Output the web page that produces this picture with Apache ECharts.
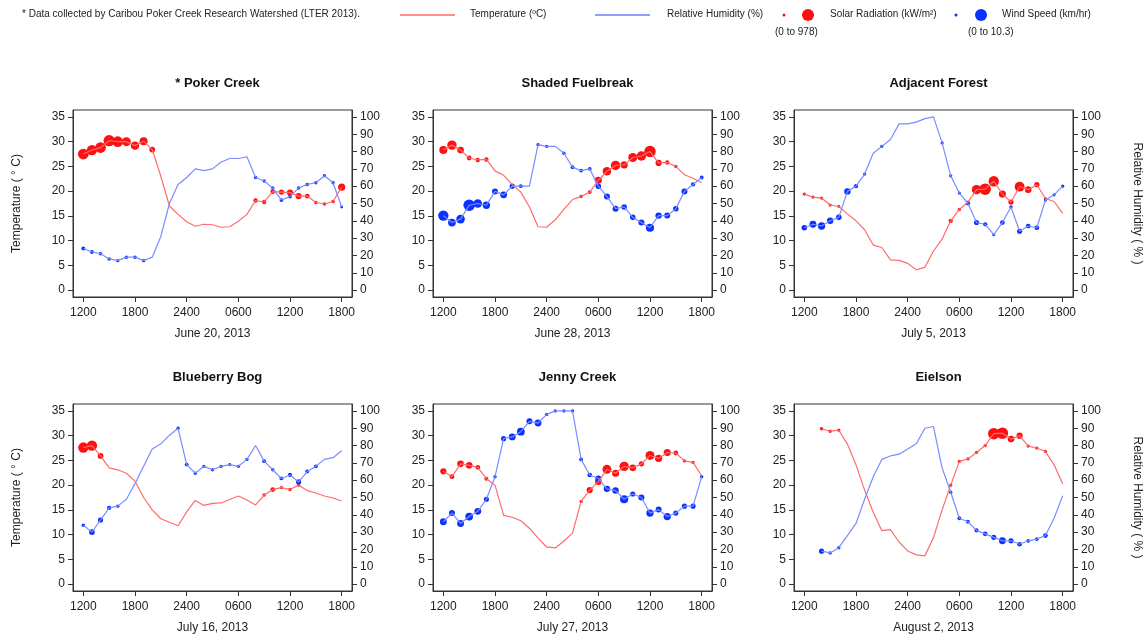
<!DOCTYPE html>
<html lang="en">
<head>
    <meta charset="UTF-8">
    <title>Caribou Poker Creek</title>
    <script src="https://cdn.jsdelivr.net/npm/echarts@6/dist/echarts.min.js"></script>
</head>
<body style="margin:0">
    <div id="chart_div" style="width: 1146px; height: 639px;"></div>
</body>
<script type="text/javascript">
// hours since 1200 on the first day (0..30)
var siteNames = ['* Poker Creek', 'Shaded Fuelbreak', 'Adjacent Forest', 'Blueberry Bog', 'Jenny Creek', 'Eielson'];
var siteDates = ['June 20, 2013', 'June 28, 2013', 'July 5, 2013', 'July 16, 2013', 'July 27, 2013', 'August 2, 2013'];
var hourTicks = [0, 6, 12, 18, 24, 30];
var hourLabels = ['1200', '1800', '2400', '0600', '1200', '1800'];

var pokerTemp = [27.5,28.3,28.8,30.2,30.0,30.0,29.2,30.1,28.4,23,17,15.3,13.8,12.9,13.3,13.2,12.7,12.8,13.9,15.3,18.1,17.8,19.9,19.8,19.7,19.0,19.0,17.7,17.4,17.9,20.8];
var pokerRH = [24,22,21,18,17,19,19,17,19,31,50,61,65,70,69,70,74,76,76,77,65,63,59,52,54,59,61,62,66,62,48];
var pokerSolar = [900,850,880,950,880,700,650,600,350,null,null,null,null,null,null,null,null,null,null,null,200,200,250,300,400,400,250,100,100,120,500];
var pokerWind = [1.5,1.5,1.2,1.2,1,1.2,1.2,1,null,null,null,null,null,null,null,null,null,null,null,null,1,1,1,1.5,1.5,1.2,1.2,1,1,1,0.5];

var fuelTemp = [28.3,29.3,28.3,26.7,26.3,26.4,24.1,23.2,21.3,19.8,16.8,12.8,12.7,14.2,16.3,18.3,18.9,19.8,22.2,24.0,25.2,25.3,26.8,27.1,28.0,25.7,25.8,25.0,23.3,22.6,21.7];
var fuelRH = [43,39,41,49,50,49,57,55,60,60,60,84,83,83,79,71,69,70,60,54,47,48,42,39,36,43,43,47,57,61,65];
var fuelSolar = [600,750,450,250,200,200,null,null,null,null,null,null,null,null,null,null,100,150,500,650,750,500,700,750,978,400,200,100,null,null,null];
var fuelWind = [9,6,7,10.3,7,5.5,4,5,3,1.5,null,1,1,null,1,1.5,1.5,1.5,3.5,4,4,3.5,3.5,4,6.5,4.5,4,3.5,4,2,1.5];

var forestTemp = [19.4,18.8,18.6,17.2,16.9,15.4,14.0,12.2,9.1,8.6,6.1,6.0,5.4,4.1,4.6,7.9,10.3,14.0,16.3,17.8,20.3,20.4,22.0,19.4,17.8,20.9,20.3,21.3,18.5,17.9,15.5];
var forestRH = [36,38,37,40,42,57,60,67,79,83,87,96,96,97,99,100,85,66,56,50,39,38,32,39,48,34,37,36,52,55,60];
var forestSolar = [80,80,80,60,50,null,null,null,null,null,null,null,null,null,null,null,null,200,100,80,750,978,850,500,300,800,450,300,60,null,null];
var forestWind = [3.5,5,5.5,4.5,3.5,4.5,2,0.8,null,0.8,null,null,null,null,null,null,0.8,0.8,0.8,2,3,2,0.5,2.5,1,3,2.5,2.5,0.8,0.8,0.8];

var bogTemp = [27.6,28.0,25.9,23.5,23.1,22.4,20.8,17.5,15.0,13.2,12.5,11.8,14.6,16.9,15.9,16.3,16.4,17.1,17.8,17.0,16.0,18.0,19.1,19.5,19.1,20.0,18.9,18.4,17.8,17.4,16.8];
var bogRH = [34,30,37,44,45,49,58,68,78,81,86,90,69,64,68,66,68,69,68,72,80,71,66,61,63,59,65,68,72,73,77];
var bogSolar = [850,850,350,null,null,null,null,null,null,null,null,null,null,null,null,null,null,null,null,null,null,100,250,100,100,80,null,null,null,null,null];
var bogWind = [1,3.5,3,2,1,null,null,null,null,null,null,1,1.5,1,1,1,1,1,1,1,null,1.5,1,1.5,2,3,1.5,1.5,null,null,null];

var jennyTemp = [22.8,21.7,24.3,24.0,23.6,21.3,20.0,13.9,13.5,12.8,11.3,9.3,7.5,7.3,8.7,10.3,16.7,19.0,20.7,23.2,22.4,23.8,23.5,24.3,26.0,25.4,26.6,26.5,24.9,24.6,21.9];
var jennyRH = [36,41,35,39,42,49,62,84,85,88,94,93,98,100,100,100,72,63,61,55,54,49,52,50,41,43,39,41,45,45,62];
var jennySolar = [400,250,450,450,250,150,null,null,null,null,null,null,null,null,null,null,80,400,450,700,500,750,450,300,700,500,500,250,80,80,null];
var jennyWind = [5,4,5,6,5,3,1,3,5,6,4,5,1,1,1,1,1.5,2.5,4,4.5,4.5,6.5,3,4,5.5,4,5.5,3,3,3,1];

var eielsonTemp = [null,null,31.4,30.9,31.1,28.3,24.1,19.0,14.5,10.8,11.0,8.5,6.7,5.9,5.7,9.4,15.0,20.0,24.8,25.3,26.6,28.0,30.4,30.5,29.3,30.0,27.9,27.5,26.8,24.1,20.3];
var eielsonRH = [null,null,19,18,21,28,35,49,62,72,74,75,78,81,90,91,67,53,38,36,31,29,27,25,25,23,25,26,28,38,51];
var eielsonSolar = [null,null,100,100,80,null,null,null,null,null,null,null,null,null,null,null,null,80,80,80,80,80,978,978,450,400,80,80,80,null,null];
var eielsonWind = [null,null,3,1,1,null,null,null,null,null,null,null,null,null,null,null,null,1,1.5,1.5,2,2.5,3,5,3,2.5,1.5,1.5,2.5,null,null];

var temps = [pokerTemp, fuelTemp, forestTemp, bogTemp, jennyTemp, eielsonTemp];
var rhs = [pokerRH, fuelRH, forestRH, bogRH, jennyRH, eielsonRH];
var solars = [pokerSolar, fuelSolar, forestSolar, bogSolar, jennySolar, eielsonSolar];
var winds = [pokerWind, fuelWind, forestWind, bogWind, jennyWind, eielsonWind];
var solarMax = 978, windMax = 10.3;

var font = 'Liberation Sans, Arial, sans-serif';
var lefts = [73, 433, 794];
var tops = [110, 404];
var gw = 279, gh = 187;

function pairs(vals) {
    var out = [];
    for (var i = 0; i < vals.length; i++) if (vals[i] != null) out.push([i, vals[i]]);
    return out;
}
function dots(vals, sizes) {
    var out = [];
    for (var i = 0; i < vals.length; i++) if (sizes[i] != null && vals[i] != null) out.push([i, vals[i], sizes[i]]);
    return out;
}

var tickStyle = {show: true, inside: false, length: 5, lineStyle: {color: '#333'}};
var lineStyle = {show: true, onZero: false, lineStyle: {color: '#333', width: 1}};

var grids = [], xAxes = [], yAxes = [], series = [], titles = [];
for (var p = 0; p < 6; p++) {
    var col = p % 3, row = Math.floor(p / 3);
    grids.push({left: lefts[col], top: tops[row], width: gw, height: gh, show: true,
        borderColor: '#333', borderWidth: 1, backgroundColor: 'transparent'});
    xAxes.push({
        type: 'value', gridIndex: p, min: -1.2, max: 31.2, position: 'bottom',
        name: siteDates[p], nameLocation: 'middle', nameGap: 31,
        nameTextStyle: {fontFamily: font, fontSize: 12, color: '#222'},
        axisLine: lineStyle, splitLine: {show: false},
        axisTick: Object.assign({customValues: hourTicks}, tickStyle),
        axisLabel: {customValues: hourTicks, fontFamily: font, fontSize: 12, color: '#222', margin: 10,
            formatter: function (v) { return hourLabels[hourTicks.indexOf(v)]; }}
    });
    yAxes.push({
        type: 'value', gridIndex: p, position: 'left', min: -1.4, max: 36.4,
        name: col === 0 ? 'Temperature ( \u00b0 C)' : '', nameLocation: 'middle', nameGap: 50, nameRotate: 90,
        nameTextStyle: {fontFamily: font, fontSize: 12, color: '#222'},
        axisLine: lineStyle, splitLine: {show: false},
        axisTick: Object.assign({customValues: [0,5,10,15,20,25,30,35]}, tickStyle),
        axisLabel: {customValues: [0,5,10,15,20,25,30,35], fontFamily: font, fontSize: 12, color: '#222', margin: 8}
    });
    yAxes.push({
        type: 'value', gridIndex: p, position: 'right', min: -4, max: 104,
        name: col === 2 ? 'Relative Humidity ( % )' : '', nameLocation: 'middle', nameGap: 58, nameRotate: -90,
        nameTextStyle: {fontFamily: font, fontSize: 12, color: '#222'},
        axisLine: lineStyle, splitLine: {show: false},
        axisTick: Object.assign({customValues: [0,10,20,30,40,50,60,70,80,90,100]}, tickStyle),
        axisLabel: {customValues: [0,10,20,30,40,50,60,70,80,90,100], fontFamily: font, fontSize: 12, color: '#222', margin: 8}
    });
    titles.push({text: siteNames[p], left: lefts[col] + gw / 2, top: tops[row] - 38, textAlign: 'center',
        textStyle: {fontFamily: font, fontSize: 13, fontWeight: 'bold', color: '#111'}});
    series.push({type: 'line', xAxisIndex: p, yAxisIndex: 2 * p, data: pairs(temps[p]), showSymbol: false,
        lineStyle: {color: '#ff6b6b', width: 1.2}, silent: true});
    series.push({type: 'line', xAxisIndex: p, yAxisIndex: 2 * p + 1, data: pairs(rhs[p]), showSymbol: false,
        lineStyle: {color: '#7b8cff', width: 1.2}, silent: true});
    series.push({type: 'scatter', xAxisIndex: p, yAxisIndex: 2 * p, data: dots(temps[p], solars[p]),
        itemStyle: {color: '#ff1010', opacity: 1},
        symbolSize: function (v) { return 2.5 + 9 * v[2] / solarMax; }});
    series.push({type: 'scatter', xAxisIndex: p, yAxisIndex: 2 * p + 1, data: dots(rhs[p], winds[p]),
        itemStyle: {color: '#0a32ff', opacity: 1},
        symbolSize: function (v) { return 2.5 + 9 * v[2] / windMax; }});
}

function txt(x, y, s) {
    return {type: 'text', left: x, top: y, style: {text: s, font: '10px ' + font, fill: '#222'}};
}
var legendGraphic = [
    txt(22, 9, '* Data collected by Caribou Poker Creek Research Watershed (LTER 2013).'),
    {type: 'line', shape: {x1: 400, y1: 15, x2: 455, y2: 15}, style: {stroke: '#ff2020', lineWidth: 1}},
    txt(470, 9, 'Temperature (\u00baC)'),
    {type: 'line', shape: {x1: 595, y1: 15, x2: 650, y2: 15}, style: {stroke: '#2040ff', lineWidth: 1}},
    txt(667, 9, 'Relative Humidity (%)'),
    {type: 'circle', shape: {cx: 784, cy: 15, r: 1.5}, style: {fill: '#ff1010'}},
    {type: 'circle', shape: {cx: 808, cy: 15, r: 6}, style: {fill: '#ff1010'}},
    txt(830, 9, 'Solar Radiation (kW/m\u00b2)'),
    txt(775, 27, '(0 to 978)'),
    {type: 'circle', shape: {cx: 956, cy: 15, r: 1.5}, style: {fill: '#0a32ff'}},
    {type: 'circle', shape: {cx: 981, cy: 15, r: 6}, style: {fill: '#0a32ff'}},
    txt(1002, 9, 'Wind Speed (km/hr)'),
    txt(968, 27, '(0 to 10.3)')
];

var chart = echarts.init(document.getElementById('chart_div'));
chart.setOption({
    animation: false,
    backgroundColor: '#fff',
    title: titles,
    grid: grids,
    xAxis: xAxes,
    yAxis: yAxes,
    series: series,
    graphic: legendGraphic
});
</script>
</html>
